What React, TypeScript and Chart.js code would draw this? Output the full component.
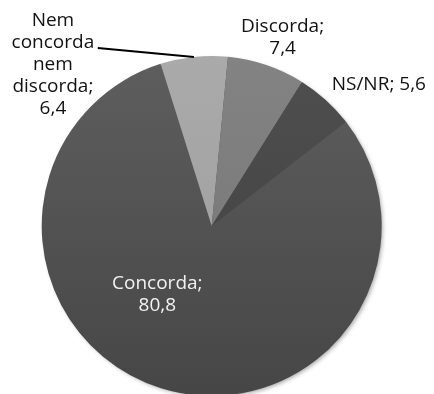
import React, { useEffect, useRef } from "react";
import { Chart, registerables } from "chart.js";

Chart.register(...registerables);

const categories = ["Concorda", "Nem concorda nem discorda", "Discorda", "NS/NR"];
const values = [80.8, 6.4, 7.4, 5.6];
const colorsTop = ["#5e5e5e", "#aaaaaa", "#838383", "#4f4f4f"];
const colorsBottom = ["#464646", "#9c9c9c", "#747474", "#3f3f3f"];
const labelLines = [
  ["Concorda;", "80,8"],
  ["Nem", "concorda", "nem", "discorda;", "6,4"],
  ["Discorda;", "7,4"],
  ["NS/NR; 5,6"],
];
// label anchors in units of radius from pie centre
const labelAnchors = [
  [-0.32, 0.404],
  [-0.934, -0.947],
  [0.417, -1.111],
  [0.983, -0.83],
];
const labelColors = ["#f2f2f2", "#111111", "#111111", "#111111"];

const FONT = "19px 'Open Sans', sans-serif";

const shadowPlugin = {
  id: "pieShadow",
  beforeDatasetsDraw(chart: any) {
    const arc = chart.getDatasetMeta(0).data[0];
    if (!arc) return;
    const { x, y, outerRadius } = arc;
    const ctx = chart.ctx;
    ctx.save();
    ctx.shadowColor = "rgba(0,0,0,0.35)";
    ctx.shadowBlur = 4;
    ctx.shadowOffsetX = 2;
    ctx.shadowOffsetY = 2;
    ctx.fillStyle = "#505050";
    ctx.beginPath();
    ctx.arc(x, y, outerRadius - 1, 0, Math.PI * 2);
    ctx.fill();
    ctx.restore();
  },
};

const labelPlugin = {
  id: "pieLabels",
  afterDatasetsDraw(chart: any) {
    const meta = chart.getDatasetMeta(0);
    const first = meta.data[0];
    if (!first) return;
    const { x: cx, y: cy, outerRadius: r } = first;
    const ctx = chart.ctx;
    ctx.save();
    ctx.font = FONT;
    ctx.textAlign = "center";
    ctx.textBaseline = "middle";
    const lh = 22;
    labelLines.forEach((lines, i) => {
      const ax = cx + labelAnchors[i][0] * r;
      const ay = cy + labelAnchors[i][1] * r;
      const top = ay - ((lines.length - 1) * lh) / 2;
      ctx.fillStyle = labelColors[i];
      lines.forEach((t, j) => ctx.fillText(t, ax, top + j * lh));
    });
    // leader line for "Nem concorda nem discorda"
    const nem = meta.data[1];
    const mid = (nem.startAngle + nem.endAngle) / 2;
    const ex = cx + Math.cos(mid) * r;
    const ey = cy + Math.sin(mid) * r;
    const sx = cx - 0.67 * r;
    const sy = cy - 1.047 * r;
    ctx.strokeStyle = "#000";
    ctx.lineWidth = 2;
    ctx.beginPath();
    ctx.moveTo(sx, sy);
    ctx.lineTo(ex, ey);
    ctx.stroke();
    ctx.restore();
  },
};

export default function App() {
  const ref = useRef<HTMLCanvasElement>(null);
  useEffect(() => {
    if (!ref.current) return;
    const chart = new Chart(ref.current, {
      type: "pie",
      data: {
        labels: categories,
        datasets: [
          {
            data: values,
            backgroundColor: (c: any) => {
              const area = c.chart.chartArea;
              if (!area) return colorsTop[c.dataIndex];
              const g = c.chart.ctx.createLinearGradient(0, area.top, 0, area.bottom);
              g.addColorStop(0, colorsTop[c.dataIndex]);
              g.addColorStop(1, colorsBottom[c.dataIndex]);
              return g;
            },
            borderWidth: 0,
          },
        ],
      },
      options: {
        animation: false,
        responsive: false,
        rotation: 52.2,
        layout: { padding: { left: 41.2, right: 51.8, top: 56, bottom: 6 } },
        plugins: {
          legend: { display: false },
          tooltip: { enabled: false },
        },
      },
      plugins: [shadowPlugin, labelPlugin],
    });
    return () => chart.destroy();
  }, []);
  return (
    <div style={{ position: "absolute", left: 0, top: 0, width: 434, height: 394, overflow: "hidden", background: "#fff" }}>
      <canvas ref={ref} width={434} height={402} style={{ display: "block" }} />
    </div>
  );
}
